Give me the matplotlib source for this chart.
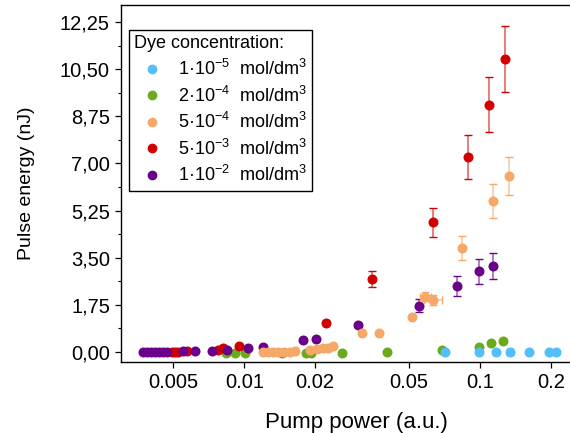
import matplotlib
matplotlib.use("Agg")
import matplotlib.pyplot as plt
from matplotlib.lines import Line2D
from matplotlib.ticker import FixedLocator, FuncFormatter, NullLocator, MultipleLocator

plt.rcParams['font.family'] = ['Liberation Sans', 'DejaVu Sans']
plt.rcParams['mathtext.fontset'] = 'custom'
plt.rcParams['mathtext.rm'] = 'Liberation Sans'
plt.rcParams['mathtext.it'] = 'Liberation Sans:italic'

# ---------------- data ----------------
blue_x = [0.0710, 0.0990, 0.1169, 0.1341, 0.1614, 0.1968, 0.2095]
blue_y = [0.0, 0.0, 0.0, 0.0, 0.0, 0.0, 0.0]
blue_xerr = [0, 0, 0, 0.004, 0, 0, 0]

green_x = [0.00836, 0.00913, 0.01007, 0.01452, 0.01827, 0.01928, 0.02610, 0.04031,
           0.0690, 0.0990, 0.1119, 0.1258]
green_y = [-0.02, -0.02, -0.02, -0.02, -0.02, -0.02, -0.02, 0.0, 0.07, 0.20, 0.32, 0.40]

orange_x = [0.01200, 0.01260, 0.01324, 0.0139, 0.01474, 0.01563, 0.0164, 0.0190, 0.02034,
            0.02158, 0.02265, 0.02386, 0.03168, 0.03740, 0.05146, 0.05872, 0.06348,
            0.08364, 0.1136, 0.1327]
orange_y = [0.0, 0.0, 0.0, 0.0, 0.0, 0.01, 0.02, 0.07, 0.10, 0.14, 0.16, 0.22, 0.72, 0.70,
            1.31, 2.06, 1.94, 3.86, 5.62, 6.53]
orange_yerr = [0, 0, 0, 0, 0, 0, 0, 0, 0, 0, 0, 0, 0, 0, 0.05, 0.17, 0.18, 0.43, 0.63, 0.72]
orange_xerr = [0, 0, 0, 0, 0, 0, 0, 0, 0, 0, 0, 0, 0, 0, 0, 0.003, 0.0055, 0, 0, 0]

red_x = [0.00492, 0.00510, 0.00525, 0.0057, 0.00776, 0.00812, 0.00950, 0.02222, 0.03482,
         0.06318, 0.08867, 0.1089, 0.1276]
red_y = [0.01, 0.01, 0.0, 0.05, 0.07, 0.14, 0.21, 1.09, 2.72, 4.81, 7.23, 9.17, 10.88]
red_yerr = [0, 0, 0, 0, 0, 0, 0, 0.05, 0.29, 0.54, 0.81, 1.02, 1.22]

purple_x = [0.00373, 0.00386, 0.00402, 0.00418, 0.00435, 0.00452, 0.0047, 0.00551, 0.00621,
            0.00733, 0.00842, 0.0104, 0.01204, 0.01775, 0.02015, 0.03045, 0.05510,
            0.07963, 0.0993, 0.1132]
purple_y = [0.0, 0.0, 0.0, 0.0, 0.0, 0.0, 0.0, 0.02, 0.02, 0.04, 0.06, 0.16, 0.20, 0.45,
            0.47, 1.0, 1.72, 2.46, 2.99, 3.18]
purple_yerr = [0, 0, 0, 0, 0, 0, 0, 0, 0, 0, 0, 0, 0, 0, 0, 0.07, 0.25, 0.37, 0.47, 0.48]

labels = [r'1·10$^{-5}$  mol/dm$^{3}$', r'2·10$^{-4}$  mol/dm$^{3}$',
          r'5·10$^{-4}$  mol/dm$^{3}$', r'5·10$^{-3}$  mol/dm$^{3}$',
          r'1·10$^{-2}$  mol/dm$^{3}$']
colors = ['#52BEFC', '#6BAA1B', '#F5A868', '#D10000', '#6B008A']

x_ticks = [0.005, 0.01, 0.02, 0.05, 0.1, 0.2]
x_ticklabels = ['0.005', '0.01', '0.02', '0.05', '0.1', '0.2']
y_ticks = [0.0, 1.75, 3.50, 5.25, 7.00, 8.75, 10.50, 12.25]

# ---------------- figure ----------------
fig = plt.figure(figsize=(5.7, 4.33), dpi=100)
# the plot frame runs past the right edge of the picture (cropped, as in the reference)
ax = fig.add_axes([0.2123, 0.164, 0.8246, 0.8245])

MS = 6.2


def plot_series(x, y, color, z, yerr=None, xerr=None):
    eb = ax.errorbar(x, y, yerr=yerr, xerr=xerr, fmt='o', color=color, ms=MS,
                     mec=color, ecolor=color, elinewidth=1.3, capsize=2.8,
                     capthick=1.0, zorder=z)
    for cap in eb[1]:
        cap.set_zorder(z)
    for bl in eb[2]:
        bl.set_alpha(0.55)
        bl.set_zorder(z - 0.1)


plot_series(green_x, green_y, colors[1], 3)
plot_series(red_x, red_y, colors[3], 4, yerr=red_yerr)
plot_series(purple_x, purple_y, colors[4], 5, yerr=purple_yerr)
plot_series(orange_x, orange_y, colors[2], 6, yerr=orange_yerr, xerr=orange_xerr)
plot_series(blue_x, blue_y, colors[0], 7, xerr=blue_xerr)

ax.set_xscale('log')
ax.set_xlim(0.003, 0.296)
ax.set_ylim(-0.37, 12.88)

ax.xaxis.set_major_locator(FixedLocator(x_ticks))
ax.xaxis.set_major_formatter(FuncFormatter(lambda v, p: x_ticklabels[x_ticks.index(v)] if v in x_ticks else ''))
ax.xaxis.set_minor_locator(NullLocator())
ax.yaxis.set_major_locator(FixedLocator(y_ticks))
ax.yaxis.set_minor_locator(MultipleLocator(0.875))
ax.yaxis.set_major_formatter(FuncFormatter(lambda v, p: f"{v:.2f}".replace('.', ',')))

ax.tick_params(axis='both', which='major', direction='out', length=4, width=0.9,
               labelsize=14.5, colors='black', pad=4)
ax.tick_params(axis='y', which='minor', direction='out', length=2, width=0.8)
for s in ax.spines.values():
    s.set_linewidth(1.0)
    s.set_color('black')

ax.set_xlabel('Pump power (a.u.)', fontsize=16, labelpad=14)
ax.set_ylabel('Pulse energy (nJ)', fontsize=14, labelpad=18)

handles = [Line2D([], [], marker='o', linestyle='none', color=c, ms=6) for c in colors]
leg = ax.legend(handles, labels, title='Dye concentration:', loc='upper left',
                bbox_to_anchor=(0.0171, 0.930), borderaxespad=0, fontsize=13,
                title_fontsize=13, alignment='left', frameon=True, fancybox=False,
                edgecolor='black', framealpha=1, handlelength=1.93,
                handletextpad=0.48, labelspacing=0.36, borderpad=0.3)
leg.get_frame().set_linewidth(1.0)

fig.savefig('out.png', dpi=100)
